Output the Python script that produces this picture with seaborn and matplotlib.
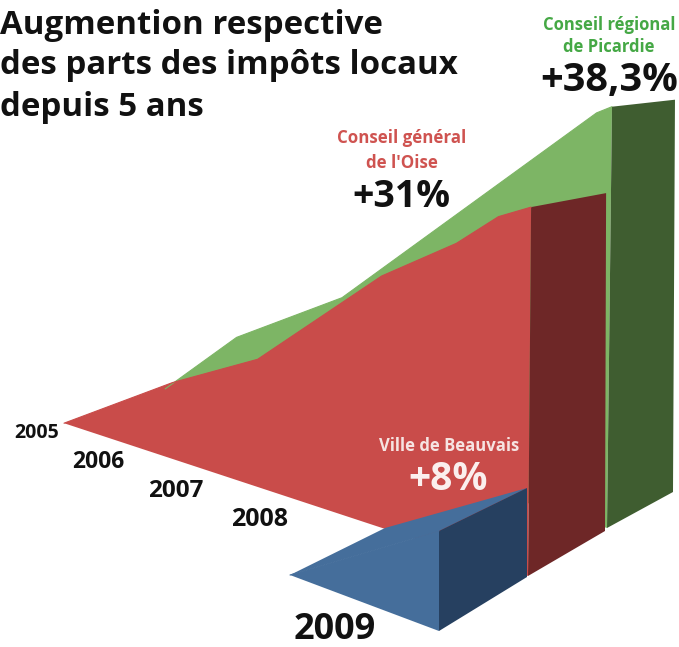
import numpy as np
import pandas as pd
import matplotlib
matplotlib.use("Agg")
import matplotlib.pyplot as plt
import seaborn as sns

# Values (% rise; knots do not fall exactly on the years)
green_years = [2005.24, 2005.84, 2006.73, 2008.87, 2009.0]
green_vals = [0.0, 6.7, 13.3, 37.3, 38.3]
red_years = [2005.0, 2005.93, 2006.66, 2007.72, 2008.36, 2008.72, 2009.0]
red_vals = [0.0, 6.4, 10.7, 21.1, 25.9, 29.3, 31.0]
blue_years = [2008.0, 2009.0]
blue_vals = [0.0, 8.0]
year_labels = ["2005", "2006", "2007", "2008", "2009"]

# Oblique projection of each layer: year 2009 foot, one year step, one % step,
# and the depth of the end wall at the foot and at the top
green_view = dict(foot=(607, 528), year=(117.5, 37.0), pct=(0.13, -11.0), d0=(66, -36), d1=(63, -7))
red_view = dict(foot=(528, 576), year=(116.0, 38.2), pct=(0.10, -11.9), d0=(77, -45), d1=(75, -14))
blue_view = dict(foot=(439, 631), year=(149.0, 56.0), pct=(0.0, -12.5), d0=(88, -54), d1=(88, -43))


def project(view, years, vals):
    t = 2009.0 - np.asarray(years, dtype=float)
    v = np.asarray(vals, dtype=float)
    x = view["foot"][0] - t * view["year"][0] + v * view["pct"][0]
    y = view["foot"][1] - t * view["year"][1] + v * view["pct"][1]
    return x, y


def draw_layer(ax, view, years, vals, face, wall, roof=None):
    x, y = project(view, years, vals)
    fx, fy = project(view, [years[0], 2009.0], [vals[0], 0.0])
    ax.fill(np.r_[x, fx[1]], np.r_[y, fy[1]], color=face, lw=0)
    df = pd.DataFrame({"x": x, "y": y})
    sns.lineplot(data=df, x="x", y="y", sort=False, estimator=None, color=face, lw=0.8, ax=ax)
    if roof is not None:
        # sloping top of the wedge, seen from above
        rx = [x[0], x[-1], x[-1] + view["d1"][0], x[0] + roof[0]]
        ry = [y[0], y[-1], y[-1] + view["d1"][1], y[0] + roof[1]]
        ax.fill(rx, ry, color=face, lw=0)
    # end wall
    wx = [x[-1], x[-1] + view["d1"][0], fx[1] + view["d0"][0], fx[1]]
    wy = [y[-1], y[-1] + view["d1"][1], fy[1] + view["d0"][1], fy[1]]
    ax.fill(wx, wy, color=wall, lw=0)


sns.set_theme(style="white")
plt.rcParams["font.family"] = ["Open Sans", "DejaVu Sans"]

fig = plt.figure(figsize=(6.79, 6.47), dpi=100)
ax = fig.add_axes([0, 0, 1, 1])

draw_layer(ax, green_view, green_years, green_vals, "#7DB565", "#3F5D30")
draw_layer(ax, red_view, red_years, red_vals, "#C94C4A", "#6E2727")
draw_layer(ax, blue_view, blue_years, blue_vals, "#456E9B", "#264060", roof=(95, -47))

ax.set_xlim(0, 679)
ax.set_ylim(647, 0)
ax.set_xlabel("")
ax.set_ylabel("")
ax.axis("off")

# Title
for line, ty in zip(["Augmention respective", "des parts des impôts locaux", "depuis 5 ans"], [25, 66, 108]):
    ax.text(0, ty, line, fontsize=23.8, fontweight="bold", color="#111111", ha="left", va="center")

# Year labels
for lab, lx, ly, fs in zip(year_labels, [37, 98, 176, 260, 335], [433, 462, 491, 520, 630], [14, 16.5, 17.5, 18, 26]):
    ax.text(lx, ly, lab, fontsize=fs, fontweight="bold", color="#111111", ha="center", va="center")

# Series labels
green_txt = "#45A845"
red_txt = "#CF5350"
ax.text(609, 25, "Conseil régional", fontsize=12, fontweight="bold", color=green_txt, ha="center", va="center")
ax.text(609, 47, "de Picardie", fontsize=12, fontweight="bold", color=green_txt, ha="center", va="center")
ax.text(609, 81, "+38,3%", fontsize=28.5, fontweight="bold", color="#111111", ha="center", va="center")
ax.text(402, 138, "Conseil général", fontsize=12.2, fontweight="bold", color=red_txt, ha="center", va="center")
ax.text(402, 163, "de l'Oise", fontsize=12.2, fontweight="bold", color=red_txt, ha="center", va="center")
ax.text(401, 197, "+31%", fontsize=27, fontweight="bold", color="#111111", ha="center", va="center")
ax.text(449, 446, "Ville de Beauvais", fontsize=12, fontweight="bold", color="#F6E4E2", ha="center", va="center")
ax.text(448, 480, "+8%", fontsize=28, fontweight="bold", color="#FBEFEE", ha="center", va="center")

fig.savefig("out.png", dpi=100)
